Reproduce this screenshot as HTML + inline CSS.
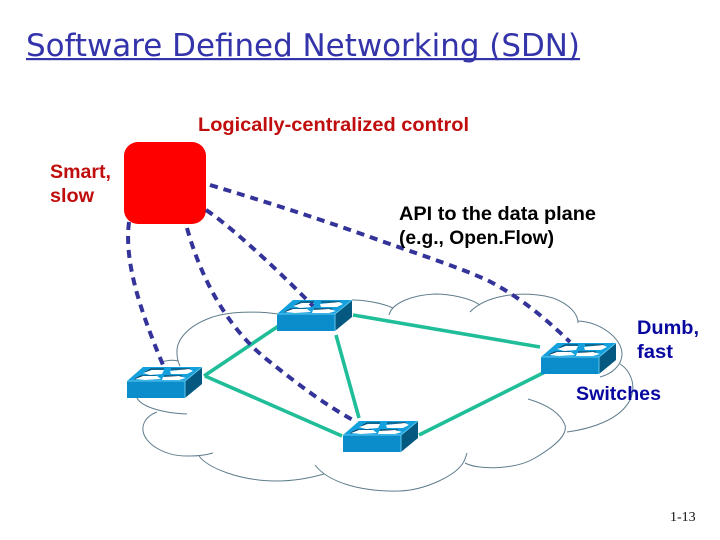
<!DOCTYPE html>
<html>
<head>
<meta charset="utf-8">
<style>
html,body{margin:0;padding:0;background:#fff;width:720px;height:540px;overflow:hidden}
svg{display:block}
.t{font-family:"Liberation Sans",sans-serif;font-weight:bold;font-size:19px}
.c{fill:none;stroke:#5f7d8c;stroke-width:1}
.g{fill:none;stroke:#1fbd98;stroke-width:3.6}
.d{fill:none;stroke:#333399;stroke-width:4;stroke-dasharray:8 6}
</style>
</head>
<body>
<svg width="720" height="540" viewBox="0 0 720 540" xmlns="http://www.w3.org/2000/svg">
<defs>
<g id="sw">
<polygon points="0,0 58,0 75,-14 16,-14" fill="#14a0dd"/>
<rect x="0" y="0" width="58" height="17" fill="#0b8ccb"/>
<polygon points="58,0 75,-14 75,3 58,17" fill="#05587f"/>
<path d="M0,0H58L75,-14M58,0V17" fill="none" stroke="#5fc8ee" stroke-width="1"/>
<path d="M17,-8 L24,-12 H37 M44,-12 H63 M8,-2 L14,-5 H29 M37,-5 H55" fill="none" stroke="#06304c" stroke-width="1"/>
<polygon points="16,-8 25,-11 37,-11 35,-7 23,-6" fill="#fff"/>
<polygon points="43,-10 62,-12 66,-10 60,-7 44,-7" fill="#fff"/>
<polygon points="8,-2 16,-5 30,-5 34,-2 18,-1" fill="#fff"/>
<polygon points="36,-4 52,-5 59,-3 52,-1 35,-1" fill="#fff"/>
</g>
</defs>

<text x="26" y="56" font-family="'DejaVu Sans',sans-serif" font-size="31" fill="#3333aa" textLength="554" lengthAdjust="spacingAndGlyphs">Software Defined Networking (SDN)</text>
<rect x="26" y="58" width="554" height="2.2" fill="#3333aa"/>

<path class="c" d="M278,314 C258,311 228,311 210,318 C188,326 176,340 177,353 C177,358 178,362 180,366"/>
<path class="c" d="M162,362 C168,360 174,360 178,361"/>
<path class="c" d="M137,398 C141,406 160,413 187,414"/>
<path class="c" d="M157,412 C146,416 142,424 143,431 C145,444 165,457 190,456 C198,456 206,455 213,453"/>
<path class="c" d="M199,456 C208,468 240,481 277,481 C292,481 310,478 324,474"/>
<path class="c" d="M315,465 C328,482 360,492 400,491 C425,490 455,476 463,463 C465,460 466,456 467,453"/>
<path class="c" d="M465,463 C478,470 515,470 535,458 C552,448 568,436 565,425 C560,412 545,404 528,399"/>
<path class="c" d="M567,432 C590,429 620,420 630,400 C637,385 630,370 620,364"/>
<path class="c" d="M600,377 C612,374 622,365 622,354 C622,338 600,322 578,321"/>
<path class="c" d="M578,323 C578,312 565,300 545,296 C518,291 485,296 470,312"/>
<path class="c" d="M480,305 C470,298 450,294 435,294 C412,295 392,303 389,315"/>
<path class="c" d="M352,300 C365,300 382,303 393,308"/>

<path class="g" d="M204,376 L283,323"/>
<path class="g" d="M205,376 L342,436"/>
<path class="g" d="M336,335 L359,418"/>
<path class="g" d="M353,315 L540,347"/>
<path class="g" d="M419,435 L545,372"/>

<use href="#sw" x="277" y="314"/>
<use href="#sw" x="127" y="381"/>
<use href="#sw" x="343" y="435"/>
<use href="#sw" x="541" y="357"/>

<rect x="124" y="142" width="82" height="82" rx="14" ry="14" fill="#ff0000"/>

<path class="d" d="M129,222 C124,262 140,310 163,365"/>
<path class="d" d="M187,228 C200,275 225,325 265,358 C295,382 325,405 353,420"/>
<path class="d" d="M206,210 C225,222 270,262 313,306"/>
<path class="d" d="M210,185 C300,212 345,228 387,243 C430,258 460,268 487,280 C520,297 545,318 570,342"/>

<text class="t" x="198" y="131" fill="#c00d0d" textLength="271" lengthAdjust="spacingAndGlyphs">Logically-centralized control</text>
<text class="t" x="50" y="178" fill="#c00d0d" textLength="61" lengthAdjust="spacingAndGlyphs">Smart,</text>
<text class="t" x="50" y="202" fill="#c00d0d" textLength="44" lengthAdjust="spacingAndGlyphs">slow</text>
<text class="t" x="399" y="220" fill="#000" textLength="197" lengthAdjust="spacingAndGlyphs">API to the data plane</text>
<text class="t" x="399" y="244" fill="#000" textLength="155" lengthAdjust="spacingAndGlyphs">(e.g., Open.Flow)</text>
<text class="t" x="637" y="334" fill="#0808a0" textLength="62" lengthAdjust="spacingAndGlyphs">Dumb,</text>
<text class="t" x="637" y="358" fill="#0808a0" textLength="36" lengthAdjust="spacingAndGlyphs">fast</text>
<text class="t" x="576" y="400" fill="#0808a0" textLength="85" lengthAdjust="spacingAndGlyphs">Switches</text>
<text x="670" y="521" font-family="'Liberation Serif',serif" font-size="14" fill="#111">1-13</text>
</svg>
</body>
</html>
